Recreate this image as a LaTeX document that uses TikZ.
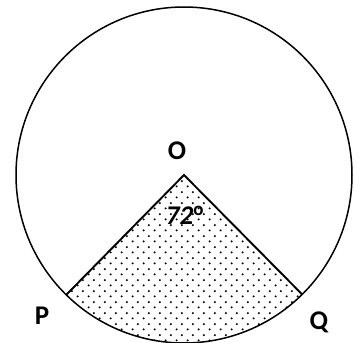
\documentclass[tikz,border=0pt]{standalone}
\usepackage{fontspec}
\setmainfont{Carlito}
\usepackage{tikz}
\usetikzlibrary{patterns.meta}
\tikzdeclarepattern{
  name=sectordots,
  type=uncolored,
  bottom left={(0pt,0pt)},
  top right={(10.7pt,10.7pt)},
  tile size={(10.7pt,10.7pt)},
  code={
    \fill (2.7pt,2.7pt) circle (1.15pt);
    \fill (8.05pt,8.05pt) circle (1.15pt);
  }
}
\tikzset{
  rim/.style={draw=black, line width=1.5pt},
  sectorfill/.style={pattern={sectordots}, pattern color=black},
  radius line/.style={draw=black, line width=1.9pt, line join=miter},
  ptlabel/.style={font=\fontsize{27}{27}\selectfont\bfseries, inner sep=0pt}
}

\begin{document}
\begin{tikzpicture}[x=1pt, y=1pt]
\useasboundingbox (0,0) rectangle (362,343);

% circle and the shaded sector
\coordinate (O) at (184,168);
\path (O) ++(225.5:168) coordinate (P);
\path (O) ++(314.7:168) coordinate (Q);
\fill[sectorfill] (O) -- (P) arc[start angle=225.5, end angle=314.7, radius=168] -- cycle;
\draw[rim] (O) circle (168);
\draw[radius line] (P) -- (O) -- (Q);

% labels
\node[ptlabel] (labO) at (177,192) {O};
\node[ptlabel] (labP) at (42,27) {P};
\node[ptlabel] (labQ) at (319,21) {Q};
\node[ptlabel, font=\fontsize{27}{27}\selectfont\bfseries\itshape] (ang) at (185,128)
  {72\textsuperscript{\upshape o}};
\end{tikzpicture}
\end{document}
